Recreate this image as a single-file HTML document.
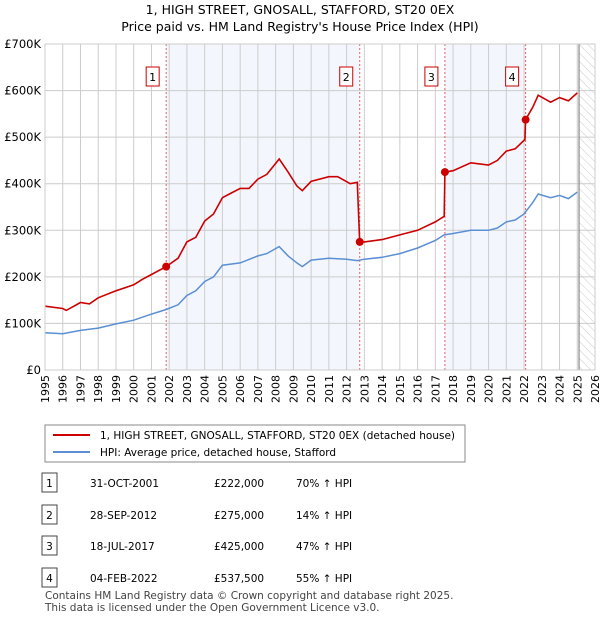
<!DOCTYPE html>
<html><head><meta charset="utf-8">
<style>
body{margin:0;background:#fff;font-family:"Liberation Sans","DejaVu Sans",sans-serif;}
svg text{font-family:"DejaVu Sans","Liberation Sans",sans-serif;}
</style></head>
<body>
<svg id="c" width="600" height="620" xmlns="http://www.w3.org/2000/svg">
<defs><pattern id="hatch" width="6" height="6" patternUnits="userSpaceOnUse" patternTransform="rotate(-45)"><line x1="0" y1="0" x2="0" y2="6" stroke="#ccc" stroke-width="1"/></pattern></defs>
<text x="300" y="14" text-anchor="middle" font-size="12.5">1, HIGH STREET, GNOSALL, STAFFORD, ST20 0EX</text>
<text x="300" y="31" text-anchor="middle" font-size="12.5">Price paid vs. HM Land Registry's House Price Index (HPI)</text>
<g id="plot"></g>
<g>
<rect x="45" y="425" width="420" height="37" fill="#fff" stroke="#888"/>
<line x1="53" y1="435" x2="90" y2="435" stroke="#cc0000" stroke-width="2"/>
<text x="100" y="439" font-size="10.5">1, HIGH STREET, GNOSALL, STAFFORD, ST20 0EX (detached house)</text>
<line x1="53" y1="452" x2="90" y2="452" stroke="#5b8fd4" stroke-width="2"/>
<text x="100" y="456" font-size="10.5">HPI: Average price, detached house, Stafford</text>
</g>
<g id="table" font-size="10.5"></g>
<text x="45" y="599" font-size="10.5" fill="#444">Contains HM Land Registry data © Crown copyright and database right 2025.</text>
<text x="45" y="611" font-size="10.5" fill="#444">This data is licensed under the Open Government Licence v3.0.</text>
</svg>
<script>
const yTicks=[0,100,200,300,400,500,600,700];
const yTickLabels=["£0","£100K","£200K","£300K","£400K","£500K","£600K","£700K"];
const xYears=[1995,1996,1997,1998,1999,2000,2001,2002,2003,2004,2005,2006,2007,2008,2009,2010,2011,2012,2013,2014,2015,2016,2017,2018,2019,2020,2021,2022,2023,2024,2025,2026];
const hpiT=[1995,1996,1997,1998,1999,2000,2001,2001.83,2002.5,2003,2003.5,2004,2004.5,2005,2006,2007,2007.5,2008.2,2008.7,2009.2,2009.5,2010,2011,2012,2012.6,2013,2014,2015,2016,2017,2017.5,2018,2019,2020,2020.5,2021,2021.5,2022,2022.5,2022.8,2023.5,2024,2024.5,2025];
const hpiV=[80,78,85,90,99,107,120,130,140,160,170,190,200,225,230,245,250,265,245,230,222,236,240,238,235,238,242,250,262,278,290,293,300,300,305,318,322,335,360,378,370,375,368,382];
const ppT=[1995,1996,1996.2,1997,1997.5,1998,1999,2000,2000.5,2001,2001.83,2002.5,2003,2003.5,2004,2004.5,2005,2005.5,2006,2006.5,2007,2007.5,2008.2,2008.7,2009.2,2009.5,2010,2011,2011.5,2012.2,2012.6,2012.74,2013,2014,2015,2016,2017,2017.5,2017.54,2018,2019,2020,2020.5,2021,2021.5,2022.05,2022.09,2022.5,2022.8,2023.5,2024,2024.5,2025];
const ppV=[137,132,128,145,142,155,170,183,195,205,222,240,275,285,320,335,370,380,390,390,410,420,453,425,395,385,405,415,415,400,403,275,275,280,290,300,318,330,425,428,445,440,450,470,475,495,537.5,565,590,575,585,578,595];
const saleT=[2001.83,2012.74,2017.54,2022.09];
const saleV=[222,275,425,537.5];
const saleLabels=["1","2","3","4"];
const saleDates=["31-OCT-2001","28-SEP-2012","18-JUL-2017","04-FEB-2022"];
const salePrices=["£222,000","£275,000","£425,000","£537,500"];
const saleHpi=["70% ↑ HPI","14% ↑ HPI","47% ↑ HPI","55% ↑ HPI"];
const X0=45,X1=595,Y0=370,Y1=44;
const xs=t=>X0+(t-1995)/(2026-1995)*(X1-X0);
const ys=v=>Y0-v/700*(Y0-Y1);
const NS="http://www.w3.org/2000/svg";
const plot=document.getElementById('plot');
function mk(tag,attrs,parent){const e=document.createElementNS(NS,tag);for(const k in attrs)e.setAttribute(k,attrs[k]);(parent||plot).appendChild(e);return e;}
let r=mk('rect',{x:xs(saleT[0]),y:Y1,width:xs(saleT[1])-xs(saleT[0]),height:Y0-Y1,fill:'#eef3fc',opacity:0.7});


r=mk('rect',{x:xs(saleT[2]),y:Y1,width:xs(saleT[3])-xs(saleT[2]),height:Y0-Y1,fill:'#eef3fc',opacity:0.7});


r=mk('rect',{x:xs(2025.1),y:Y1,width:X1-xs(2025.1),height:Y0-Y1,fill:'url(#hatch)'});


xYears.forEach(y=>{const l=mk('line',{x1:xs(y),x2:xs(y),y1:Y1,y2:Y0,stroke:'#ccc','stroke-width':1});


const t=mk('text',{x:0,y:0,'font-size':11,'text-anchor':'end',transform:`translate(${xs(y)+4},${Y0+5}) rotate(-90)`});t.textContent=y;

});
yTicks.forEach((v,i)=>{const l=mk('line',{x1:X0,x2:X1,y1:ys(v),y2:ys(v),stroke:'#ccc','stroke-width':1});


const t=mk('text',{x:X0-4,y:ys(v)+4,'font-size':11.5,'text-anchor':'end'});t.textContent=yTickLabels[i];

});
const nl=mk('line',{x1:xs(2025.1),x2:xs(2025.1),y1:Y1,y2:Y0,stroke:'#888','stroke-width':1.2});


saleT.forEach((t,i)=>{const l=mk('line',{x1:xs(t),x2:xs(t),y1:Y1,y2:Y0,stroke:'#e06060','stroke-width':1,'stroke-dasharray':'2,2'});


const b=mk('rect',{x:xs(t)-20,y:67,width:13,height:19,fill:'#fff',stroke:'#cc0000'});


const tx=mk('text',{x:xs(t)-13.5,y:81,'font-size':11,'text-anchor':'middle'});tx.textContent=saleLabels[i];

});
const pts=(T,V)=>T.map((t,i)=>xs(t).toFixed(1)+','+ys(V[i]).toFixed(1)).join(' ');
const hl=mk('polyline',{points:pts(hpiT,hpiV),fill:'none',stroke:'#5b8fd4','stroke-width':1.5});


const pl=mk('polyline',{points:pts(ppT,ppV),fill:'none',stroke:'#cc0000','stroke-width':1.6});


saleT.forEach((t,i)=>{const c=mk('circle',{cx:xs(t),cy:ys(saleV[i]),r:4,fill:'#cc0000'});

});
const fr=mk('rect',{x:X0,y:Y1,width:X1-X0,height:Y0-Y1,fill:'none',stroke:'#ccc'});


const tb=document.getElementById('table');
const rowsY=[483,515,546,578];
rowsY.forEach((y,i)=>{
const b=mk('rect',{x:42,y:y-10,width:15,height:19,fill:'#fff',stroke:'#444'},tb);


const cells=[[49.5,saleLabels[i],'middle'],[90,saleDates[i],'start'],[214,salePrices[i],'start'],[296,saleHpi[i],'start']];
cells.forEach(c=>{const t=mk('text',{x:c[0],y:y+4,'text-anchor':c[2]},tb);t.textContent=c[1];

});
});
</script>
</body></html>
